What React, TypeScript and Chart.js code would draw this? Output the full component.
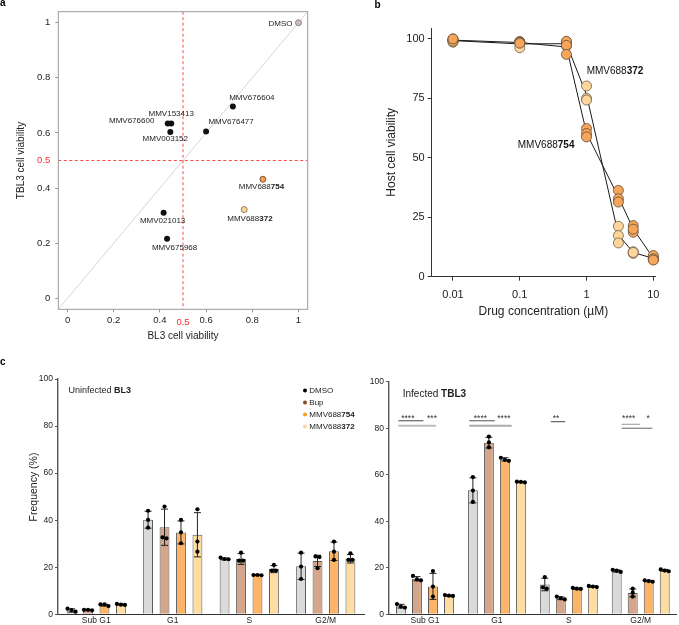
import React, { useEffect, useRef } from "react";
import { Chart, registerables } from "chart.js";
Chart.register(...registerables);

const FONT = "'Liberation Sans', Arial, Helvetica, sans-serif";
Chart.defaults.font.family = FONT;
Chart.defaults.color = "#222";

// ================= DATA =================
// Panel a: BL3 vs TBL3 viability
const compoundNames = ["DMSO", "MMV676604", "MMV676477", "MMV153413", "MMV676600", "MMV003152", "MMV688754", "MMV688372", "MMV021013", "MMV675968"];
const compoundBoldPart = ["", "", "", "", "", "", "754", "372", "", ""];
const bl3Viability = [1.0, 0.716, 0.6, 0.449, 0.434, 0.445, 0.846, 0.765, 0.416, 0.431];
const tbl3Viability = [1.0, 0.696, 0.605, 0.634, 0.634, 0.603, 0.432, 0.322, 0.31, 0.216];
const compoundKind = ["dmso", "hit", "hit", "hit", "hit", "hit", "754", "372", "hit", "hit"];
const viabilityTicks = [0, 0.2, 0.4, 0.6, 0.8, 1];
const viabilityTickLabels = ["0", "0.2", "0.4", "0.6", "0.8", "1"];
const viabilityThreshold = 0.5;

// Panel b: dose response
const concentrations = [0.01, 0.1, 0.5, 1, 3, 5, 10];
const mmv754Reps = [[99.6, 99.0, 100.0], [98.9, 98.5, 98.2], [99.0, 97.3, 93.5], [62.3, 60.2, 58.8], [36.3, 32.8, 31.4], [21.5, 18.7, 20.0], [8.9, 7.5, 7.0]];
const mmv754Mean = [99.5, 98.5, 96.6, 60.4, 33.5, 20.1, 7.8];
const mmv372Reps = [[99.2, 98.6, 100.0], [96.3, 98.8, 98.7], [98.8, 98.2, 97.0], [80.2, 75.0, 74.3], [21.2, 17.3, 14.2], [10.5, 9.8, 10.2], [8.3, 7.6, 7.2]];
const mmv372Mean = [99.3, 97.9, 98.0, 76.5, 17.6, 10.2, 7.7];
const doseTicks = [0.01, 0.1, 1, 10];
const doseTickLabels = ["0.01", "0.1", "1", "10"];
const hostTicks = [0, 25, 50, 75, 100];

// Panel c: cell cycle
const phases = ["Sub G1", "G1", "S", "G2/M"];
const treatments = ["DMSO", "Bup", "MMV688754", "MMV688372"];
const treatmentBoldPart = ["", "", "754", "372"];
const freqTicks = [0, 20, 40, 60, 80, 100];
const bl3Means = [
  [1.6, 40.2, 23.5, 20.4],
  [1.8, 37.0, 23.5, 22.7],
  [3.9, 34.8, 16.7, 26.8],
  [4.2, 33.8, 19.2, 23.6],
];
const bl3Sd = [
  [0.7, 3.6, 0.4, 5.6],
  [0.1, 7.7, 2.3, 2.4],
  [0.4, 4.9, 0.1, 3.9],
  [0.2, 9.4, 1.5, 1.8],
];
const bl3Reps = [
  [[1.1, 2.4, 1.8], [44.0, 40.1, 36.8], [23.5, 24.1, 23.4], [26.2, 20.3, 15.0]],
  [[1.7, 1.9, 1.9], [45.8, 32.7, 32.3], [26.2, 22.8, 22.8], [24.6, 24.3, 19.6]],
  [[4.2, 3.5, 4.2], [40.1, 34.8, 30.2], [16.7, 16.7, 16.6], [30.9, 26.6, 23.1]],
  [[4.4, 4.0, 4.1], [44.6, 30.9, 26.6], [21.0, 18.6, 18.6], [25.9, 23.1, 23.1]],
];
const tbl3Means = [
  [3.5, 53.3, 12.8, 18.6],
  [15.3, 73.8, 6.9, 9.2],
  [12.0, 66.6, 11.0, 14.3],
  [8.0, 56.9, 11.9, 18.9],
];
const tbl3Sd = [
  [0.8, 5.4, 2.7, 0.5],
  [0.9, 2.3, 0.6, 1.7],
  [5.6, 0.7, 0.3, 0.3],
  [0.2, 0.2, 0.3, 0.4],
];
const tbl3Reps = [
  [[2.9, 4.4, 3.3], [59.0, 53.2, 48.3], [16.0, 11.6, 11.0], [19.1, 18.8, 18.2]],
  [[16.5, 15.0, 14.6], [76.4, 73.9, 71.8], [7.6, 6.9, 6.4], [11.0, 9.3, 7.6]],
  [[18.6, 11.9, 7.6], [67.3, 66.0, 66.4], [11.4, 10.9, 11.0], [14.6, 14.0, 14.3]],
  [[8.3, 7.9, 8.0], [57.0, 56.7, 56.9], [12.2, 11.7, 11.9], [19.3, 18.8, 18.5]],
];
const sigTexts = ["****", "***", "****", "****", "**", "****", "*"];

// ================= STYLE / LAYOUT =================
const kindFill: Record<string, string> = { dmso: "#cbbdbf", hit: "#111111", "754": "#f2a14f", "372": "#f9d69c" };
const kindBorder: Record<string, string> = { dmso: "#7a7070", hit: "#111111", "754": "#5b3f22", "372": "#7f6440" };
const labelPlacement = [
  { dx: -6, dy: 1, align: "right" },
  { dx: 19, dy: -9, align: "center" },
  { dx: 25, dy: -9.3, align: "center" },
  { dx: 0, dy: -9.7, align: "center" },
  { dx: -13.4, dy: -2.3, align: "right" },
  { dx: -5, dy: 7, align: "center" },
  { dx: -1.5, dy: 7.5, align: "center" },
  { dx: 5.7, dy: 9, align: "center" },
  { dx: -1, dy: 7.7, align: "center" },
  { dx: 7.5, dy: 9.3, align: "center" },
];
const doseLabelAnchors = [
  { text: "MMV688754", bold: "754", x: 0.248, y: 55.1 },
  { text: "MMV688372", bold: "372", x: 2.67, y: 86.5 },
];
const barFill = ["#dadada", "#d4a68b", "#fdb466", "#fddda2"];
const legendDot = ["#000000", "#8a4a1e", "#ff9a1a", "#fcd8a2"];
// significance brackets (positions in bar-step units from DMSO bar, y in % units)
const sigLayout = [
  { phase: 0, from: -0.16, to: 1.4, y: 83.2, at: 0.43, color: "#444", w: 1 },
  { phase: 0, from: -0.16, to: 2.2, y: 81.1, at: 1.94, color: "#bbb", w: 2 },
  { phase: 1, from: -0.23, to: 1.37, y: 83.2, at: 0.47, color: "#555", w: 1 },
  { phase: 1, from: -0.23, to: 2.42, y: 81.1, at: 1.94, color: "#aaa", w: 2 },
  { phase: 2, from: 0.37, to: 1.27, y: 82.8, at: 0.7, color: "#444", w: 1 },
  { phase: 3, from: 0.31, to: 1.46, y: 81.7, at: 0.75, color: "#999", w: 1 },
  { phase: 3, from: 0.31, to: 2.23, y: 80.0, at: 1.96, color: "#666", w: 1 },
];
const sigTextLevel = 83.1;

function drawRich(ctx: CanvasRenderingContext2D, text: string, boldPart: string, x: number, y: number, align: string, size: number, color: string) {
  const normal = boldPart ? text.slice(0, text.length - boldPart.length) : text;
  ctx.font = `${size}px ${FONT}`;
  const w1 = ctx.measureText(normal).width;
  ctx.font = `bold ${size}px ${FONT}`;
  const w2 = boldPart ? ctx.measureText(boldPart).width : 0;
  const total = w1 + w2;
  const sx = align === "center" ? x - total / 2 : align === "right" ? x - total : x;
  ctx.textAlign = "left";
  ctx.textBaseline = "middle";
  ctx.fillStyle = color;
  ctx.font = `${size}px ${FONT}`;
  ctx.fillText(normal, sx, y);
  if (boldPart) {
    ctx.font = `bold ${size}px ${FONT}`;
    ctx.fillText(boldPart, sx + w1, y);
  }
}

// ---------- Panel a ----------
function configA(W: number, H: number) {
  const area = { left: 58.3, right: 307.7, top: 11.7, bottom: 309.3 };
  const plugin = {
    id: "panelA",
    beforeDatasetsDraw(chart: any) {
      const { ctx, chartArea: a, scales } = chart;
      const x = scales.x, y = scales.y;
      ctx.save();
      ctx.beginPath();
      ctx.rect(a.left, a.top, a.right - a.left, a.bottom - a.top);
      ctx.clip();
      ctx.strokeStyle = "#d6d6d6";
      ctx.lineWidth = 1;
      ctx.beginPath();
      ctx.moveTo(x.getPixelForValue(x.min), y.getPixelForValue(x.min));
      ctx.lineTo(x.getPixelForValue(x.max), y.getPixelForValue(x.max));
      ctx.stroke();
      ctx.strokeStyle = "#ff4a4a";
      ctx.setLineDash([3, 2.5]);
      const tx = x.getPixelForValue(viabilityThreshold);
      const ty = y.getPixelForValue(viabilityThreshold);
      ctx.beginPath();
      ctx.moveTo(tx, a.top);
      ctx.lineTo(tx, a.bottom);
      ctx.moveTo(a.left, ty);
      ctx.lineTo(a.right, ty);
      ctx.stroke();
      ctx.restore();
      ctx.save();
      ctx.strokeStyle = "#9a9a9a";
      ctx.lineWidth = 1;
      ctx.strokeRect(a.left, a.top, a.right - a.left, a.bottom - a.top);
      ctx.restore();
    },
    afterDatasetsDraw(chart: any) {
      const { ctx, chartArea: a, scales } = chart;
      const x = scales.x, y = scales.y;
      ctx.save();
      compoundNames.forEach((n, i) => {
        const p = labelPlacement[i];
        drawRich(ctx, n, compoundBoldPart[i], x.getPixelForValue(bl3Viability[i]) + p.dx, y.getPixelForValue(tbl3Viability[i]) + p.dy, p.align, 8, "#222");
      });
      ctx.fillStyle = "#ff2a2a";
      ctx.font = `9.5px ${FONT}`;
      ctx.textBaseline = "middle";
      ctx.textAlign = "right";
      ctx.fillText("0.5", a.left - 8, y.getPixelForValue(viabilityThreshold));
      ctx.textAlign = "center";
      ctx.fillText("0.5", x.getPixelForValue(viabilityThreshold), a.bottom + 13.5);
      ctx.restore();
    },
  };
  const axisCommon = {
    type: "linear",
    min: -0.04,
    max: 1.04,
    afterBuildTicks: (s: any) => { s.ticks = viabilityTicks.map((v) => ({ value: v })); },
    ticks: { callback: (v: number) => viabilityTickLabels[viabilityTicks.indexOf(v)], font: { size: 9.5 }, color: "#222", autoSkip: false, maxRotation: 0 },
    grid: { drawOnChartArea: false, tickLength: 3, color: "#999" },
    border: { display: false },
  };
  return {
    type: "scatter",
    data: {
      datasets: [{
        data: bl3Viability.map((v, i) => ({ x: v, y: tbl3Viability[i] })),
        pointRadius: 3,
        pointBackgroundColor: compoundKind.map((k) => kindFill[k]),
        pointBorderColor: compoundKind.map((k) => kindBorder[k]),
        pointBorderWidth: compoundKind.map((k) => (k === "hit" ? 0 : 0.8)),
      }],
    },
    options: {
      responsive: false, animation: false, events: [],
      layout: { padding: { left: 0, top: area.top, right: W - area.right, bottom: 0 } },
      plugins: { legend: { display: false }, tooltip: { enabled: false } },
      scales: {
        x: { ...axisCommon, afterFit: (s: any) => { s.height = H - area.bottom; }, ticks: { ...axisCommon.ticks, padding: 2 },
          title: { display: true, text: "BL3 cell viability", font: { size: 10 }, color: "#222", padding: { top: 0, bottom: 3 } } },
        y: { ...axisCommon, afterFit: (s: any) => { s.width = area.left; }, ticks: { ...axisCommon.ticks, padding: 5 },
          title: { display: true, text: "TBL3 cell viability", font: { size: 10 }, color: "#222", padding: { top: 15.7, bottom: 0 } } },
      },
    },
    plugins: [plugin],
  };
}

// ---------- Panel b ----------
function configB(W: number, H: number) {
  const area = { left: 91.7, right: 315, top: 28, bottom: 276.7 };
  const flat = (reps: number[][]) => concentrations.flatMap((c, i) => reps[i].map((v) => ({ x: c, y: v })));
  const plugin = {
    id: "panelB",
    afterDatasetsDraw(chart: any) {
      const { ctx, scales } = chart;
      ctx.save();
      doseLabelAnchors.forEach((l) => {
        drawRich(ctx, l.text, l.bold, scales.x.getPixelForValue(l.x), scales.y.getPixelForValue(l.y), "center", 10, "#111");
      });
      ctx.restore();
    },
  };
  const gridB = { drawOnChartArea: false, tickLength: 4, color: "#333" };
  return {
    type: "scatter",
    data: {
      datasets: [
        { label: "MMV688754", data: flat(mmv754Reps), pointRadius: 5, pointBackgroundColor: "#f5a65b", pointBorderColor: "#5e4b3a", pointBorderWidth: 0.8, showLine: false, clip: false },
        { label: "MMV688372", data: flat(mmv372Reps), pointRadius: 5, pointBackgroundColor: "#fcd69c", pointBorderColor: "#6e5c46", pointBorderWidth: 0.8, showLine: false, clip: false },
        { label: "MMV688754 mean", data: concentrations.map((c, i) => ({ x: c, y: mmv754Mean[i] })), showLine: true, pointRadius: 0, borderColor: "#1a1a1a", borderWidth: 1, clip: false },
        { label: "MMV688372 mean", data: concentrations.map((c, i) => ({ x: c, y: mmv372Mean[i] })), showLine: true, pointRadius: 0, borderColor: "#1a1a1a", borderWidth: 1, clip: false },
      ],
    },
    options: {
      responsive: false, animation: false, events: [],
      layout: { padding: { left: 0, top: area.top, right: W - area.right, bottom: 0 } },
      plugins: { legend: { display: false }, tooltip: { enabled: false } },
      scales: {
        x: {
          type: "logarithmic", min: 0.0048, max: 10.6,
          afterBuildTicks: (s: any) => { s.ticks = doseTicks.map((v) => ({ value: v })); },
          afterFit: (s: any) => { s.height = H - area.bottom; },
          ticks: { callback: (v: number) => doseTickLabels[doseTicks.indexOf(v)], font: { size: 11 }, color: "#222", padding: 8, autoSkip: false, maxRotation: 0 },
          grid: gridB, border: { display: true, color: "#333", width: 1 },
          title: { display: true, text: "Drug concentration (µM)", font: { size: 12 }, color: "#222", padding: { top: 0, bottom: 10.8 } },
        },
        y: {
          type: "linear", min: 0, max: 104.6,
          afterBuildTicks: (s: any) => { s.ticks = hostTicks.map((v) => ({ value: v })); },
          afterFit: (s: any) => { s.width = area.left; },
          ticks: { font: { size: 11 }, color: "#222", padding: 3 },
          grid: gridB, border: { display: true, color: "#333", width: 1 },
          title: { display: true, text: "Host cell viability", font: { size: 12 }, color: "#222", padding: { top: 44.5, bottom: 0 } },
        },
      },
    },
    plugins: [plugin],
  };
}

// ---------- Panel c ----------
function spreadOffsets(ys: number[], gap: number) {
  const idx = ys.map((v, i) => i).sort((a, b) => ys[a] - ys[b]);
  const off = ys.map(() => 0);
  let cluster: number[] = [];
  const flush = () => {
    cluster.forEach((k, j) => { off[k] = (j - (cluster.length - 1) / 2) * gap; });
    cluster = [];
  };
  idx.forEach((k, j) => {
    if (j > 0 && Math.abs(ys[k] - ys[idx[j - 1]]) >= 3.6) flush();
    cluster.push(k);
  });
  flush();
  return off;
}

function configC(W: number, H: number, p: any) {
  const area = p.area;
  const plugin = {
    id: "panelC",
    afterDatasetsDraw(chart: any) {
      const { ctx, chartArea: a, scales } = chart;
      const ys = scales.y;
      ctx.save();
      p.means.forEach((row: number[], i: number) => {
        const meta = chart.getDatasetMeta(i);
        row.forEach((m: number, j: number) => {
          const bx = meta.data[j].x;
          const sd = p.sds[i][j];
          const y1 = ys.getPixelForValue(m + sd), y2 = ys.getPixelForValue(m - sd);
          ctx.strokeStyle = "#222";
          ctx.lineWidth = 1;
          ctx.beginPath();
          ctx.moveTo(bx, y1); ctx.lineTo(bx, y2);
          ctx.moveTo(bx - 3.5, y1); ctx.lineTo(bx + 3.5, y1);
          ctx.moveTo(bx - 3.5, y2); ctx.lineTo(bx + 3.5, y2);
          ctx.stroke();
          const py = p.reps[i][j].map((v: number) => ys.getPixelForValue(v));
          const off = spreadOffsets(py, 4);
          ctx.fillStyle = "#000";
          py.forEach((yy: number, k: number) => {
            ctx.beginPath();
            ctx.arc(bx + off[k], yy, 2.1, 0, Math.PI * 2);
            ctx.fill();
          });
        });
      });
      drawRich(ctx, p.heading, p.headingBold, a.left + p.headingDx, a.top + p.headingDy, "left", p.headingSize, "#222");
      if (p.legend) {
        treatments.forEach((t, i) => {
          const ly = a.top + 11.5 + 12 * i;
          ctx.fillStyle = legendDot[i];
          ctx.beginPath();
          ctx.arc(a.right - 59, ly, 2, 0, Math.PI * 2);
          ctx.fill();
          drawRich(ctx, t, treatmentBoldPart[i], a.right - 54.7, ly, "left", 8, "#222");
        });
      }
      if (p.yTitle) {
        ctx.save();
        ctx.translate(33.7, a.top + 108);
        ctx.rotate(-Math.PI / 2);
        ctx.fillStyle = "#222";
        ctx.font = `10.5px ${FONT}`;
        ctx.textAlign = "center";
        ctx.textBaseline = "middle";
        ctx.fillText(p.yTitle, 0, 0);
        ctx.restore();
      }
      if (p.sig) {
        const m0 = chart.getDatasetMeta(0), m1 = chart.getDatasetMeta(1);
        sigLayout.forEach((s, k) => {
          const x0 = m0.data[s.phase].x;
          const step = m1.data[s.phase].x - x0;
          const yy = ys.getPixelForValue(s.y);
          ctx.strokeStyle = s.color;
          ctx.lineWidth = s.w;
          ctx.beginPath();
          ctx.moveTo(x0 + s.from * step, yy);
          ctx.lineTo(x0 + s.to * step, yy);
          ctx.stroke();
          ctx.fillStyle = "#333";
          ctx.font = `8.5px ${FONT}`;
          ctx.textAlign = "center";
          ctx.textBaseline = "alphabetic";
          ctx.fillText(sigTexts[k], x0 + s.at * step, ys.getPixelForValue(sigTextLevel));
        });
      }
      ctx.restore();
    },
  };
  return {
    type: "bar",
    data: {
      labels: phases,
      datasets: treatments.map((t, i) => ({
        label: t, data: p.means[i], backgroundColor: barFill[i], borderColor: "#5a5a5a", borderWidth: 1,
        categoryPercentage: p.catPct, barPercentage: p.barPct,
      })),
    },
    options: {
      responsive: false, animation: false, events: [],
      layout: { padding: { left: 0, top: area.top, right: W - area.right, bottom: 0 } },
      plugins: { legend: { display: false }, tooltip: { enabled: false } },
      scales: {
        x: {
          afterFit: (s: any) => { s.height = H - area.bottom; },
          ticks: { font: { size: 8.5 }, color: "#222", padding: 1, autoSkip: false, maxRotation: 0 },
          grid: { display: false, drawTicks: false, tickLength: 0 }, border: { display: true, color: "#333", width: 1 },
        },
        y: {
          min: 0, max: 100,
          afterBuildTicks: (s: any) => { s.ticks = freqTicks.map((v) => ({ value: v })); },
          afterFit: (s: any) => { s.width = area.left; },
          ticks: { font: { size: 8.5 }, color: "#222", padding: 2 },
          grid: { drawOnChartArea: false, tickLength: 3, color: "#555" },
          border: { display: true, color: "#555", width: 1.4 },
        },
      },
    },
    plugins: [plugin],
  };
}

function ChartBox({ left, top, width, height, make }: any) {
  const ref = useRef<HTMLCanvasElement>(null);
  useEffect(() => {
    const chart = new Chart(ref.current as HTMLCanvasElement, make(width, height) as any);
    return () => chart.destroy();
  }, []);
  return <canvas ref={ref} width={width} height={height} style={{ position: "absolute", left, top, width, height }} />;
}

const letterStyle: any = { position: "absolute", fontFamily: FONT, fontWeight: "bold", fontSize: 10, lineHeight: "10px", color: "#000" };

export default function App() {
  return (
    <div style={{ position: "absolute", left: 0, top: 0, width: 679, height: 625, background: "#fff", overflow: "hidden" }}>
      <ChartBox left={0} top={0} width={340} height={345} make={configA} />
      <ChartBox left={340} top={0} width={339} height={330} make={configB} />
      <ChartBox left={0} top={340} width={366} height={305} make={(w: number, h: number) => configC(w, h, {
        area: { left: 58, right: 364, top: 39, bottom: 274.3 },
        means: bl3Means, sds: bl3Sd, reps: bl3Reps, catPct: 0.86, barPct: 0.6,
        heading: "Uninfected BL3", headingBold: "BL3", headingDx: 10.5, headingDy: 12, headingSize: 9,
        legend: true, yTitle: "Frequency (%)", sig: false,
      })} />
      <ChartBox left={366} top={340} width={313} height={305} make={(w: number, h: number) => configC(w, h, {
        area: { left: 23, right: 310.7, top: 41.7, bottom: 274.3 },
        means: tbl3Means, sds: tbl3Sd, reps: tbl3Reps, catPct: 0.89, barPct: 0.62,
        heading: "Infected TBL3", headingBold: "TBL3", headingDx: 13.7, headingDy: 12.6, headingSize: 10,
        legend: false, yTitle: "", sig: true,
      })} />
      <span style={{ ...letterStyle, left: 0, top: -2.5 }}>a</span>
      <span style={{ ...letterStyle, left: 374.5, top: -0.2 }}>b</span>
      <span style={{ ...letterStyle, left: 0, top: 357.2 }}>c</span>
    </div>
  );
}
